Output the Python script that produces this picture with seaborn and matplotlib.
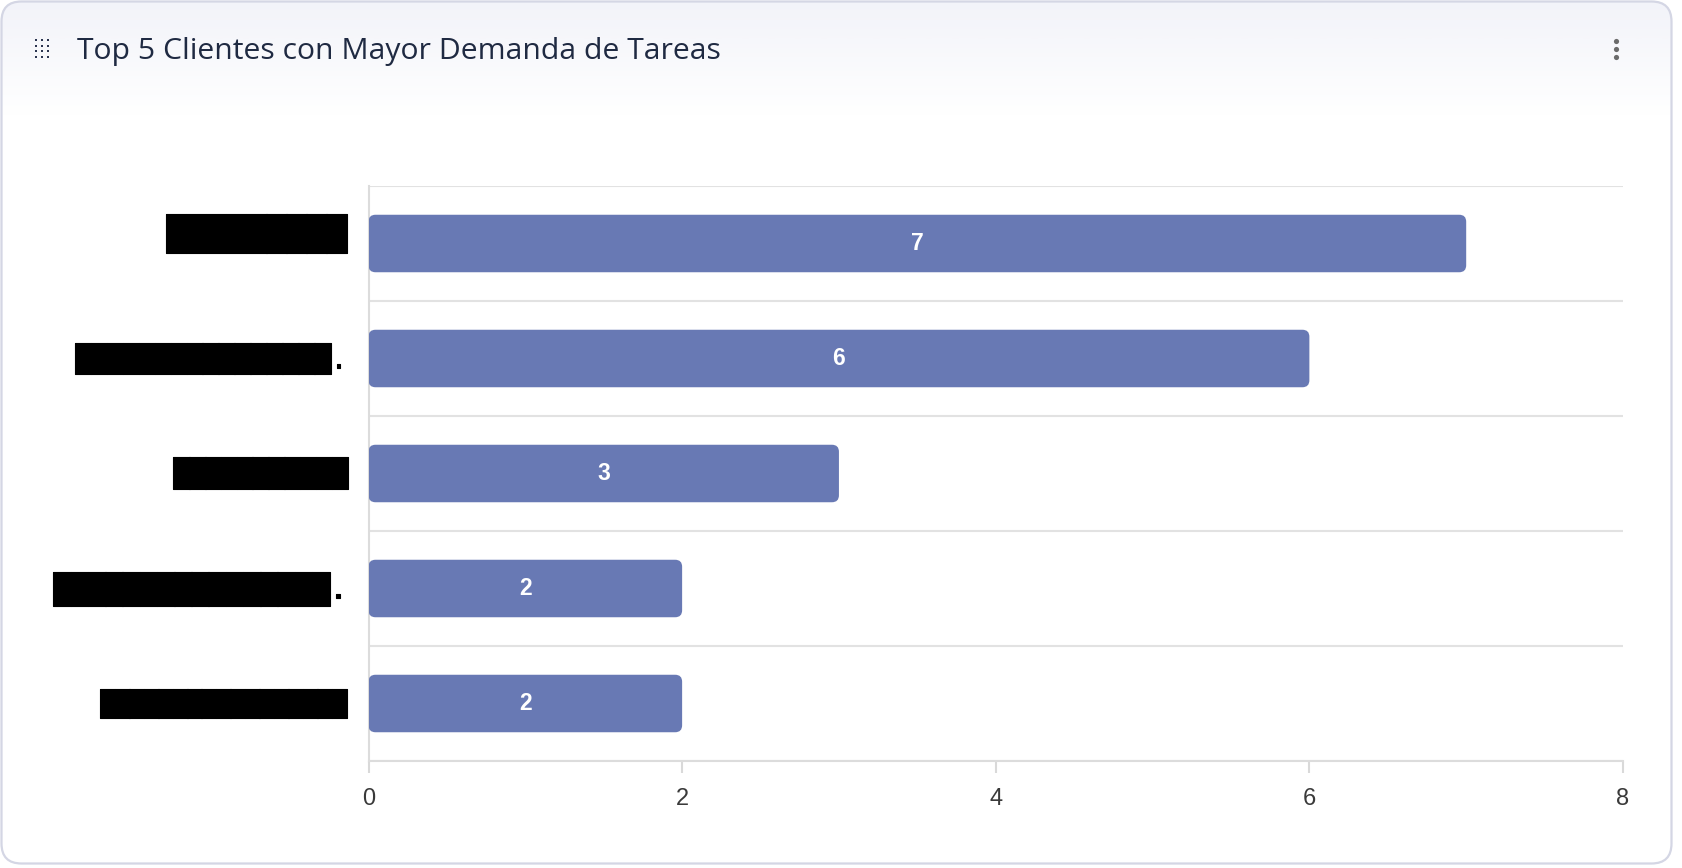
import numpy as np
import pandas as pd
import matplotlib
matplotlib.use("Agg")
import matplotlib.pyplot as plt
import matplotlib.patheffects as pe
from matplotlib.patches import FancyBboxPatch
from matplotlib.transforms import ScaledTranslation
import seaborn as sns

# ---------------- data ----------------
title = "Top 5 Clientes con Mayor Demanda de Tareas"
client_labels = ["█" * 9, "█" * 16 + ".", "█" * 11, "█" * 16 + ".", "█" * 17]   # redacted names
client_keys = ["c1", "c2", "c3", "c4", "c5"]
tasks = [7, 6, 3, 2, 2]
x_ticks = [0, 2, 4, 6, 8]
label_sizes = [24, 19.1, 18.9, 20.6, 17.3]
label_shift_px = [10, 0, 0, 0, 0]

W, H = 1682, 868
sns.set_theme(style="white")
plt.rcParams["font.family"] = ["Liberation Sans", "DejaVu Sans"]

fig = plt.figure(figsize=(W / 100, H / 100), dpi=100)
fig.patch.set_facecolor("white")

# ---------------- background card ----------------
bg = fig.add_axes([0, 0, 1, 1], zorder=0)
bg.set_xlim(0, W)
bg.set_ylim(H, 0)
bg.axis("off")

card = FancyBboxPatch((1.5, 1.5), 1670, 862, boxstyle="round,pad=0,rounding_size=20",
                      facecolor="white", edgecolor="none", zorder=1)
bg.add_patch(card)
top_c = np.array([0xf2, 0xf3, 0xf9]) / 255.0
grad = np.linspace(0, 1, 120)[:, None, None]
img = top_c[None, None, :] * (1 - grad) + np.ones(3)[None, None, :] * grad
im = bg.imshow(img, extent=(0, W, 115, 0), aspect="auto", zorder=2, interpolation="bilinear")
im.set_clip_path(card)
border = FancyBboxPatch((1.5, 1.5), 1670, 862, boxstyle="round,pad=0,rounding_size=20",
                        facecolor="none", edgecolor="#d4d6e4", linewidth=1.6, zorder=3)
bg.add_patch(border)

# header: grip icon, title, kebab
gx, gy = np.meshgrid([36, 42, 48], [40, 45.5, 51, 56.5])
bg.scatter(gx.ravel(), gy.ravel(), s=4.2, marker="s", color="#2b3550", linewidths=0, zorder=4)
bg.text(77, 51, title, ha="left", va="center", fontsize=21.7, color="#1f2a42",
        family=["Open Sans", "DejaVu Sans"], zorder=4)
bg.scatter([1616, 1616, 1616], [41, 49, 57], s=14, color="#6b6b6b", linewidths=0, zorder=4)

# ---------------- main chart ----------------
ax = fig.add_axes([368.5 / W, 1 - 761 / H, (1623 - 368.5) / W, (761 - 186) / H], zorder=2)
ax.set_facecolor("none")
df = pd.DataFrame({"client": client_keys, "tasks": tasks})
sns.barplot(data=df, x="tasks", y="client", orient="h", color="#6879B4",
            saturation=1, width=0.5, ax=ax)

ax.set_xlim(0, 8)
ax.set_ylim(len(tasks) - 0.5, -0.5)

# rounded bars
bars = list(ax.containers[0])
px_per_x = (1623 - 368.5) / 8
px_per_y = (761 - 186) / 5
rx = 7 / px_per_x
aspect = px_per_x / px_per_y
for p in bars:
    rb = FancyBboxPatch((p.get_x(), p.get_y()), p.get_width(), p.get_height(),
                        boxstyle=f"round,pad=0,rounding_size={rx}", mutation_aspect=aspect,
                        facecolor=p.get_facecolor(), edgecolor="none", zorder=3)
    ax.add_patch(rb)
    p.set_visible(False)
ax.bar_label(ax.containers[0], labels=[str(v) for v in tasks], label_type="center",
             color="white", fontsize=16.5, fontweight="bold", zorder=4)

# grid at category boundaries
ax.set_yticks(np.arange(-0.5, len(tasks), 1.0), minor=True)
ax.grid(True, which="minor", axis="y", color="#e2e2e2", linewidth=1.5)
ax.grid(False, which="major")
ax.tick_params(axis="y", which="minor", length=0)

for s in ["top", "right"]:
    ax.spines[s].set_visible(False)
for s in ["left", "bottom"]:
    ax.spines[s].set_color("#dcdcdc")
    ax.spines[s].set_linewidth(1.5)

ax.set_xticks(x_ticks)
ax.set_xticklabels([str(t) for t in x_ticks])
ax.tick_params(axis="x", which="major", length=8.6, width=1.5, color="#d9d9d9",
               labelsize=17, labelcolor="#3a3a3a", pad=10.5, bottom=True)
ax.set_yticks(range(len(tasks)))
ax.set_yticklabels(client_labels)
ax.tick_params(axis="y", which="major", length=0, pad=15.5)
for t, fs, dy in zip(ax.get_yticklabels(), label_sizes, label_shift_px):
    t.set_family("DejaVu Sans Mono")
    t.set_fontsize(fs)
    t.set_color("black")
    t.set_verticalalignment("center")
    t.set_path_effects([pe.withStroke(linewidth=0.8, foreground="black")])
    if dy:
        t.set_transform(t.get_transform() + ScaledTranslation(0, dy / 100, fig.dpi_scale_trans))
ax.set_xlabel("")
ax.set_ylabel("")

fig.savefig("out.png", dpi=100, facecolor="white")
